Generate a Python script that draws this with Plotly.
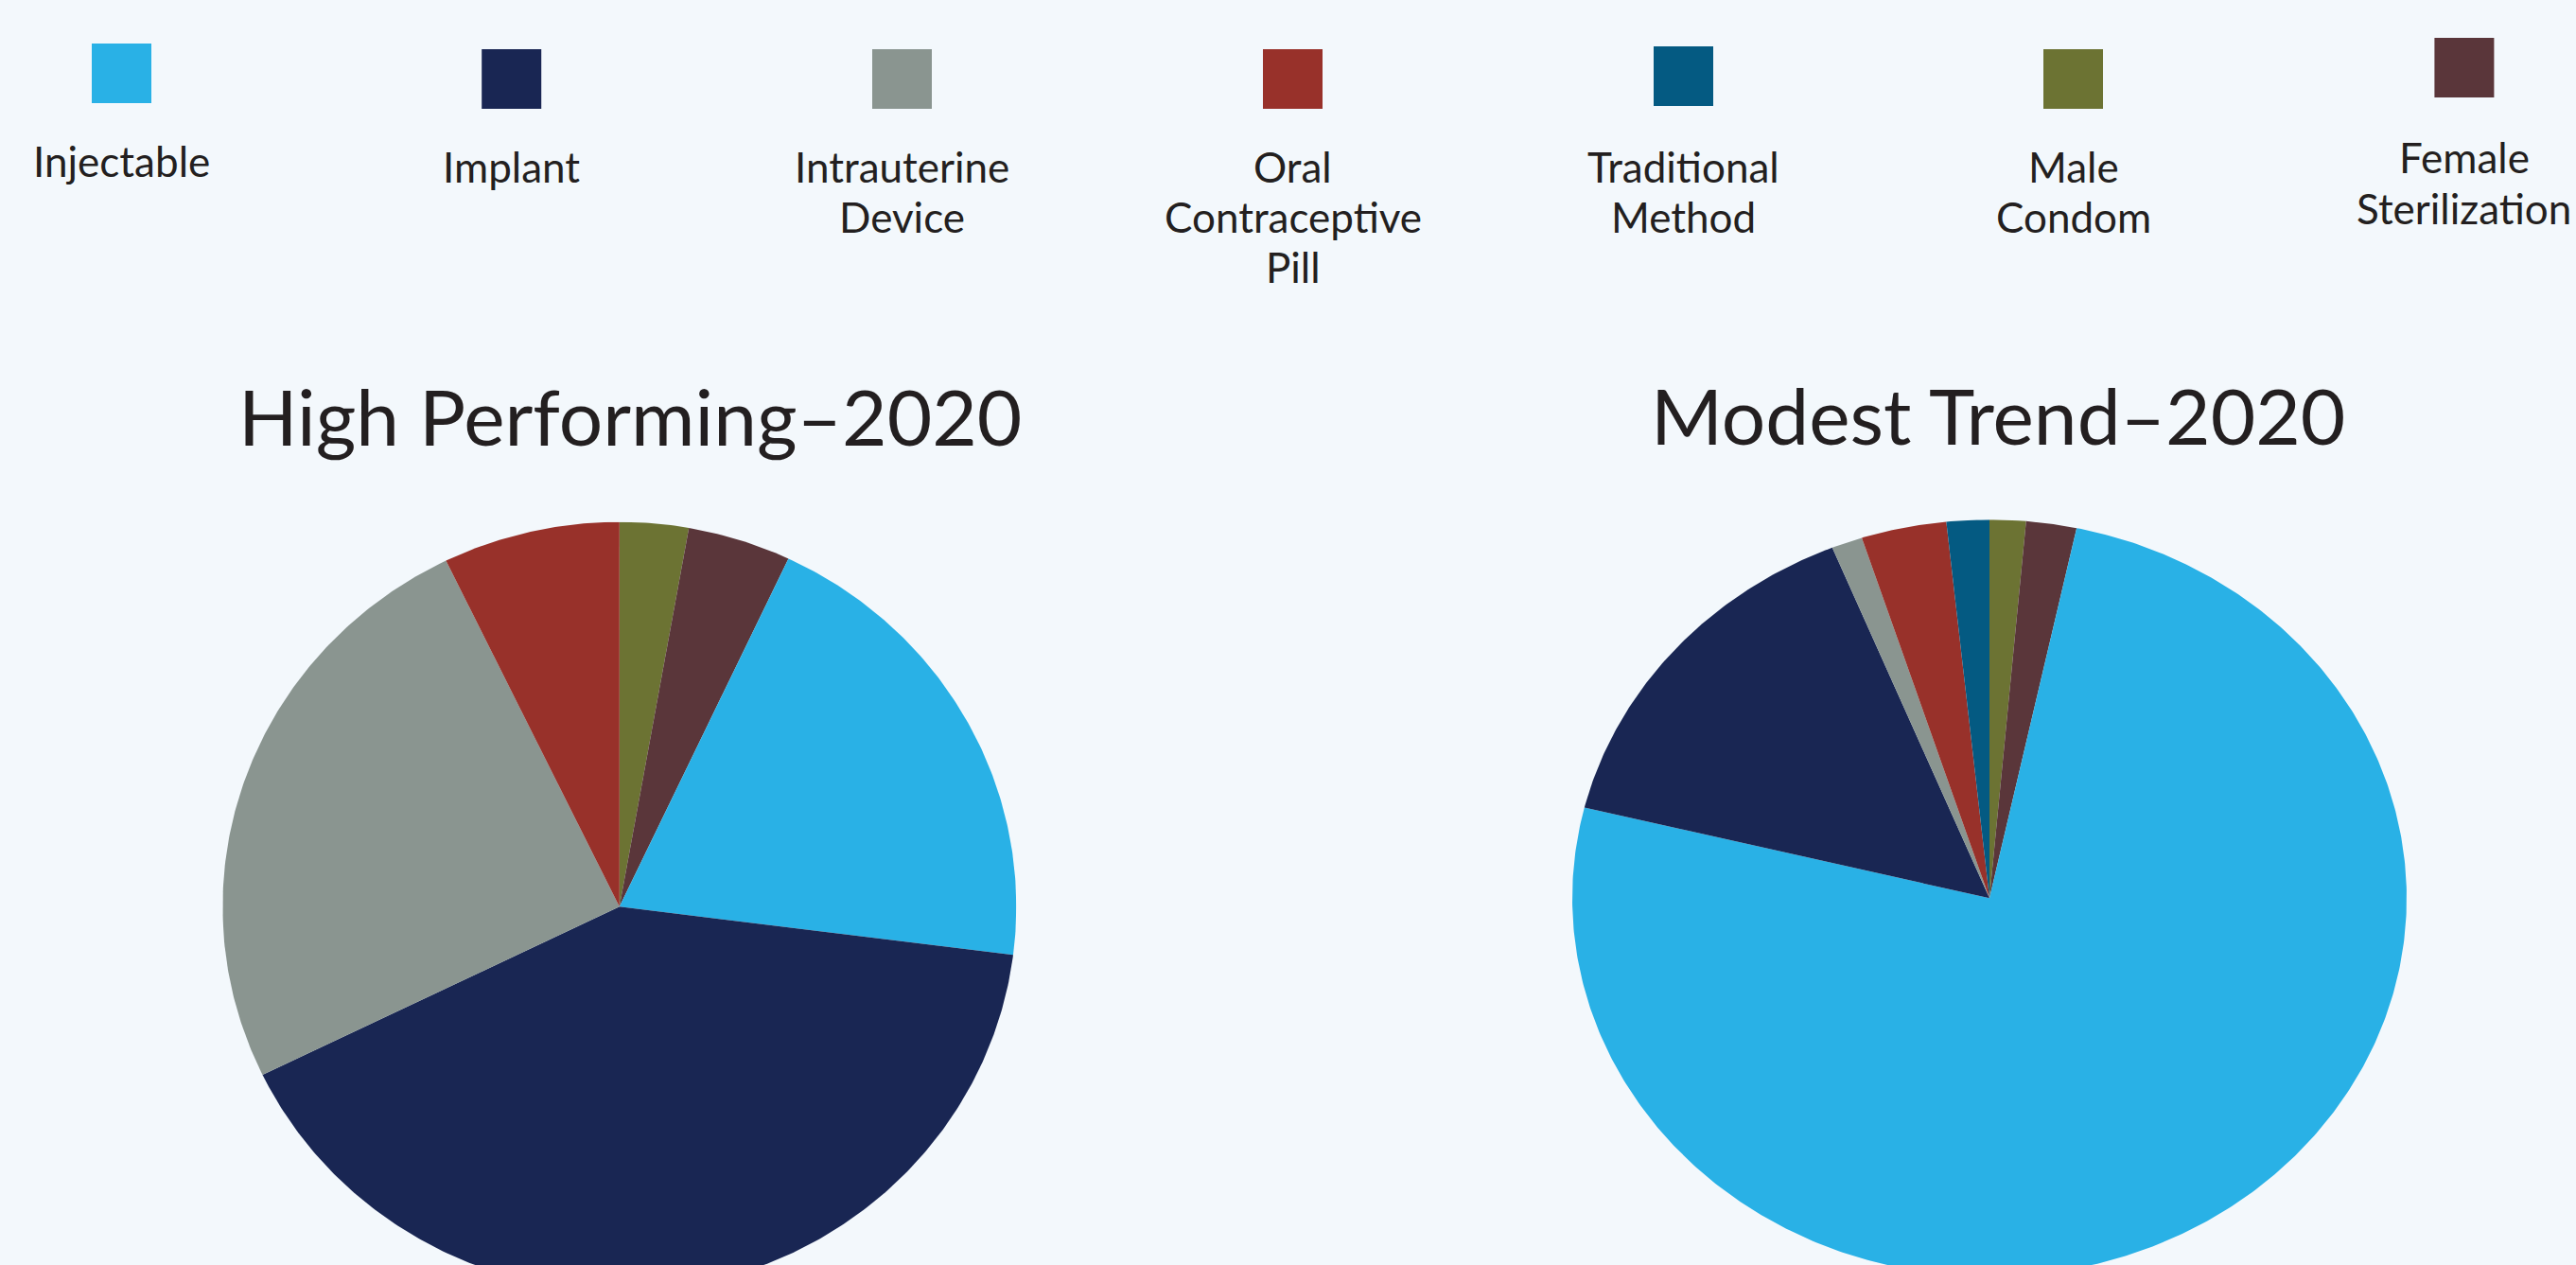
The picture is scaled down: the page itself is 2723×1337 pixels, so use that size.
import numpy as np
import plotly.graph_objects as go

# ---------------- data ----------------
methods = ["Injectable", "Implant", "Intrauterine Device", "Oral Contraceptive Pill",
           "Traditional Method", "Male Condom", "Female Sterilization"]
legend_labels = ["Injectable", "Implant", "Intrauterine<br>Device", "Oral<br>Contraceptive<br>Pill",
                 "Traditional<br>Method", "Male<br>Condom", "Female<br>Sterilization"]
colors = ["#29B1E6", "#192653", "#8A9590", "#98312A", "#045A82", "#6C7333", "#5A363A"]

high_performing_2020 = [20.0, 40.8, 25.0, 7.2, 0.0, 2.8, 4.2]
modest_trend_2020 = [75.5, 15.0, 1.2, 3.3, 1.65, 1.4, 1.95]

titles = ["High Performing\u20132020", "Modest Trend\u20132020"]

# ---------------- layout constants (pixels) ----------------
W, H = 2723, 1337
BG = "#F3F8FC"
TEXT = "#231F20"
FONT = "Lato"

# pie geometry: centre x, centre y, x-radius, y-radius
PIES = [(654.8, 958.3, 419.5, 406.6), (2103.0, 949.3, 441.0, 400.0)]
TITLE_POS = [(666, 471), (2111.6, 470)]
TITLE_SIZE = 82

LEG_X = [128.5, 540.7, 953.5, 1366.5, 1779.5, 2191.5, 2604.9]
LEG_TOP = [46, 52, 52, 52, 49, 52, 40]
LEG_BASE = [186.7, 192.7, 192.7, 192.7, 192.7, 192.7, 183.3]
SQ = 63
LEG_SIZE = 44
LINE_GAP = 53.3

START_INDEX = methods.index("Male Condom")  # slice drawn first, at 12 o'clock, clockwise


def px_x(x):
    return x / W


def px_y(y):
    return 1 - y / H


fig = go.Figure()

for k, (vals, (cx, cy, rx, ry)) in enumerate(zip([high_performing_2020, modest_trend_2020], PIES)):
    xa = "x" if k == 0 else f"x{k + 1}"
    ya = "y" if k == 0 else f"y{k + 1}"
    total = float(sum(vals))
    order = [(START_INDEX + i) % len(methods) for i in range(len(methods))]
    acc = 0.0
    for i in order:
        v = vals[i]
        if v <= 0:
            continue
        a0 = acc / total * 2 * np.pi
        a1 = (acc + v) / total * 2 * np.pi
        acc += v
        n = max(3, int(np.degrees(a1 - a0) * 2))
        th = np.linspace(a0, a1, n)
        xs = np.concatenate([[0.0], np.sin(th), [0.0]])
        ys = np.concatenate([[0.0], np.cos(th), [0.0]])
        fig.add_trace(go.Scatter(
            x=xs, y=ys, xaxis=xa, yaxis=ya, mode="lines", fill="toself",
            fillcolor=colors[i], line=dict(width=0, color=colors[i]),
            name=methods[i], text=f"{methods[i]}: {v}%", hoverinfo="text",
            hoveron="fills", showlegend=False))

    xdom = [px_x(cx - rx), px_x(cx + rx)]
    ydom = [0.0, px_y(cy - ry)]
    yrng = [-(H - cy) / ry, 1.0]
    ax_common = dict(visible=False, showgrid=False, zeroline=False, fixedrange=True)
    fig.update_layout(**{
        ("xaxis" if k == 0 else f"xaxis{k + 1}"): dict(domain=xdom, range=[-1, 1], anchor=ya, **ax_common),
        ("yaxis" if k == 0 else f"yaxis{k + 1}"): dict(domain=ydom, range=yrng, anchor=xa, **ax_common),
    })

annotations = []
shapes = []

# titles
for t, (tx, tb) in zip(titles, TITLE_POS):
    annotations.append(dict(text=t, x=px_x(tx), y=px_y(tb - 0.387 * TITLE_SIZE), xref="paper", yref="paper",
                            xanchor="center", yanchor="middle", showarrow=False,
                            font=dict(family=FONT, size=TITLE_SIZE, color=TEXT)))

# custom legend: swatch above, label below
for i, lab in enumerate(legend_labels):
    cx = LEG_X[i]
    top = LEG_TOP[i]
    shapes.append(dict(type="rect", xref="paper", yref="paper",
                       x0=px_x(cx - SQ / 2), x1=px_x(cx + SQ / 2),
                       y0=px_y(top + SQ), y1=px_y(top),
                       fillcolor=colors[i], line=dict(width=0)))
    for j, line in enumerate(lab.split("<br>")):
        base = LEG_BASE[i] + j * LINE_GAP
        annotations.append(dict(text=line, x=px_x(cx), y=px_y(base - 0.387 * LEG_SIZE),
                                xref="paper", yref="paper", xanchor="center", yanchor="middle",
                                showarrow=False, font=dict(family=FONT, size=LEG_SIZE, color=TEXT)))

fig.update_layout(
    width=W, height=H,
    margin=dict(l=0, r=0, t=0, b=0),
    paper_bgcolor=BG, plot_bgcolor=BG,
    showlegend=False,
    annotations=annotations, shapes=shapes,
)

fig.write_html("out.html")
